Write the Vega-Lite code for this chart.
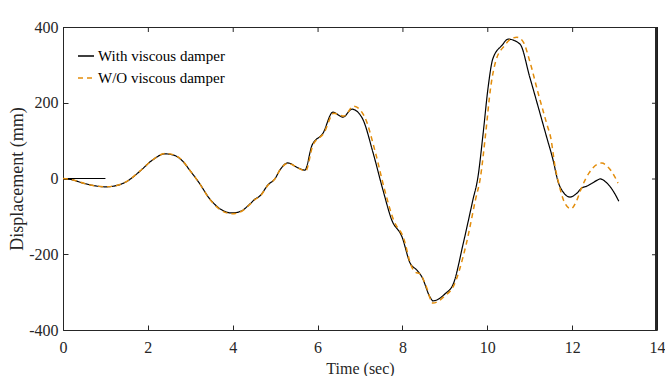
{
  "$schema": "https://vega.github.io/schema/vega-lite/v6.json",
  "width": 594,
  "height": 303,
  "autosize": {"type": "none"},
  "padding": {"left": 63, "top": 27, "right": 8, "bottom": 46},
  "config": {
    "view": {"stroke": null},
    "font": "Liberation Serif",
    "axis": {
      "grid": false,
      "domain": true,
      "domainColor": "#262626",
      "tickColor": "#262626",
      "zindex": 1,
      "labelFont": "Liberation Serif",
      "labelFontSize": 16,
      "labelColor": "#262626",
      "titleFont": "Liberation Serif",
      "titleFontWeight": "normal",
      "titleColor": "#262626"
    }
  },
  "data": {
    "values": [
      {"t": 0, "v": 0, "series": "With viscous damper", "seg": "flat"},
      {"t": 1.0, "v": 0, "series": "With viscous damper", "seg": "flat"},
      {"t": 0, "v": 0, "series": "With viscous damper", "seg": "main"},
      {"t": 0.2, "v": -3, "series": "With viscous damper", "seg": "main"},
      {"t": 0.5, "v": -13, "series": "With viscous damper", "seg": "main"},
      {"t": 0.8, "v": -20, "series": "With viscous damper", "seg": "main"},
      {"t": 1.0, "v": -22, "series": "With viscous damper", "seg": "main"},
      {"t": 1.2, "v": -20, "series": "With viscous damper", "seg": "main"},
      {"t": 1.5, "v": -8, "series": "With viscous damper", "seg": "main"},
      {"t": 1.8, "v": 18, "series": "With viscous damper", "seg": "main"},
      {"t": 2.1, "v": 48, "series": "With viscous damper", "seg": "main"},
      {"t": 2.4, "v": 65, "series": "With viscous damper", "seg": "main"},
      {"t": 2.6, "v": 62, "series": "With viscous damper", "seg": "main"},
      {"t": 2.8, "v": 48, "series": "With viscous damper", "seg": "main"},
      {"t": 3.0, "v": 20, "series": "With viscous damper", "seg": "main"},
      {"t": 3.2, "v": -10, "series": "With viscous damper", "seg": "main"},
      {"t": 3.46, "v": -54, "series": "With viscous damper", "seg": "main"},
      {"t": 3.7, "v": -80, "series": "With viscous damper", "seg": "main"},
      {"t": 3.98, "v": -91, "series": "With viscous damper", "seg": "main"},
      {"t": 4.2, "v": -86, "series": "With viscous damper", "seg": "main"},
      {"t": 4.4, "v": -68, "series": "With viscous damper", "seg": "main"},
      {"t": 4.52, "v": -55, "series": "With viscous damper", "seg": "main"},
      {"t": 4.65, "v": -45, "series": "With viscous damper", "seg": "main"},
      {"t": 4.83, "v": -17, "series": "With viscous damper", "seg": "main"},
      {"t": 5.0, "v": 0, "series": "With viscous damper", "seg": "main"},
      {"t": 5.11, "v": 22, "series": "With viscous damper", "seg": "main"},
      {"t": 5.3, "v": 41, "series": "With viscous damper", "seg": "main"},
      {"t": 5.54, "v": 28, "series": "With viscous damper", "seg": "main"},
      {"t": 5.7, "v": 22, "series": "With viscous damper", "seg": "main"},
      {"t": 5.87, "v": 88, "series": "With viscous damper", "seg": "main"},
      {"t": 6.13, "v": 120, "series": "With viscous damper", "seg": "main"},
      {"t": 6.36, "v": 175, "series": "With viscous damper", "seg": "main"},
      {"t": 6.6, "v": 162, "series": "With viscous damper", "seg": "main"},
      {"t": 6.81, "v": 183, "series": "With viscous damper", "seg": "main"},
      {"t": 7.05, "v": 160, "series": "With viscous damper", "seg": "main"},
      {"t": 7.31, "v": 67, "series": "With viscous damper", "seg": "main"},
      {"t": 7.54, "v": -30, "series": "With viscous damper", "seg": "main"},
      {"t": 7.75, "v": -110, "series": "With viscous damper", "seg": "main"},
      {"t": 7.99, "v": -154, "series": "With viscous damper", "seg": "main"},
      {"t": 8.18, "v": -223, "series": "With viscous damper", "seg": "main"},
      {"t": 8.34, "v": -242, "series": "With viscous damper", "seg": "main"},
      {"t": 8.46, "v": -260, "series": "With viscous damper", "seg": "main"},
      {"t": 8.65, "v": -313, "series": "With viscous damper", "seg": "main"},
      {"t": 8.72, "v": -323, "series": "With viscous damper", "seg": "main"},
      {"t": 9.0, "v": -305, "series": "With viscous damper", "seg": "main"},
      {"t": 9.2, "v": -278, "series": "With viscous damper", "seg": "main"},
      {"t": 9.43, "v": -173, "series": "With viscous damper", "seg": "main"},
      {"t": 9.66, "v": -57, "series": "With viscous damper", "seg": "main"},
      {"t": 9.78, "v": 4, "series": "With viscous damper", "seg": "main"},
      {"t": 9.9, "v": 117, "series": "With viscous damper", "seg": "main"},
      {"t": 10.02, "v": 241, "series": "With viscous damper", "seg": "main"},
      {"t": 10.13, "v": 316, "series": "With viscous damper", "seg": "main"},
      {"t": 10.35, "v": 352, "series": "With viscous damper", "seg": "main"},
      {"t": 10.49, "v": 368, "series": "With viscous damper", "seg": "main"},
      {"t": 10.77, "v": 355, "series": "With viscous damper", "seg": "main"},
      {"t": 11.0, "v": 268, "series": "With viscous damper", "seg": "main"},
      {"t": 11.2, "v": 189, "series": "With viscous damper", "seg": "main"},
      {"t": 11.4, "v": 109, "series": "With viscous damper", "seg": "main"},
      {"t": 11.55, "v": 49, "series": "With viscous damper", "seg": "main"},
      {"t": 11.67, "v": -9, "series": "With viscous damper", "seg": "main"},
      {"t": 11.79, "v": -36, "series": "With viscous damper", "seg": "main"},
      {"t": 11.95, "v": -49, "series": "With viscous damper", "seg": "main"},
      {"t": 12.1, "v": -40, "series": "With viscous damper", "seg": "main"},
      {"t": 12.23, "v": -25, "series": "With viscous damper", "seg": "main"},
      {"t": 12.35, "v": -20, "series": "With viscous damper", "seg": "main"},
      {"t": 12.6, "v": -4, "series": "With viscous damper", "seg": "main"},
      {"t": 12.66, "v": -1, "series": "With viscous damper", "seg": "main"},
      {"t": 12.8, "v": -10, "series": "With viscous damper", "seg": "main"},
      {"t": 12.95, "v": -30, "series": "With viscous damper", "seg": "main"},
      {"t": 13.1, "v": -60, "series": "With viscous damper", "seg": "main"},

      {"t": 0, "v": 0, "series": "W/O viscous damper", "seg": "main"},
      {"t": 0.2, "v": -3, "series": "W/O viscous damper", "seg": "main"},
      {"t": 0.5, "v": -13, "series": "W/O viscous damper", "seg": "main"},
      {"t": 0.8, "v": -20, "series": "W/O viscous damper", "seg": "main"},
      {"t": 1.0, "v": -22, "series": "W/O viscous damper", "seg": "main"},
      {"t": 1.2, "v": -20, "series": "W/O viscous damper", "seg": "main"},
      {"t": 1.5, "v": -8, "series": "W/O viscous damper", "seg": "main"},
      {"t": 1.8, "v": 18, "series": "W/O viscous damper", "seg": "main"},
      {"t": 2.1, "v": 48, "series": "W/O viscous damper", "seg": "main"},
      {"t": 2.4, "v": 66, "series": "W/O viscous damper", "seg": "main"},
      {"t": 2.6, "v": 63, "series": "W/O viscous damper", "seg": "main"},
      {"t": 2.8, "v": 49, "series": "W/O viscous damper", "seg": "main"},
      {"t": 3.0, "v": 20, "series": "W/O viscous damper", "seg": "main"},
      {"t": 3.2, "v": -10, "series": "W/O viscous damper", "seg": "main"},
      {"t": 3.46, "v": -55, "series": "W/O viscous damper", "seg": "main"},
      {"t": 3.7, "v": -82, "series": "W/O viscous damper", "seg": "main"},
      {"t": 3.98, "v": -93, "series": "W/O viscous damper", "seg": "main"},
      {"t": 4.2, "v": -87, "series": "W/O viscous damper", "seg": "main"},
      {"t": 4.4, "v": -69, "series": "W/O viscous damper", "seg": "main"},
      {"t": 4.52, "v": -56, "series": "W/O viscous damper", "seg": "main"},
      {"t": 4.65, "v": -46, "series": "W/O viscous damper", "seg": "main"},
      {"t": 4.83, "v": -18, "series": "W/O viscous damper", "seg": "main"},
      {"t": 5.0, "v": 0, "series": "W/O viscous damper", "seg": "main"},
      {"t": 5.11, "v": 22, "series": "W/O viscous damper", "seg": "main"},
      {"t": 5.3, "v": 40, "series": "W/O viscous damper", "seg": "main"},
      {"t": 5.54, "v": 28, "series": "W/O viscous damper", "seg": "main"},
      {"t": 5.72, "v": 20, "series": "W/O viscous damper", "seg": "main"},
      {"t": 5.89, "v": 88, "series": "W/O viscous damper", "seg": "main"},
      {"t": 6.15, "v": 120, "series": "W/O viscous damper", "seg": "main"},
      {"t": 6.38, "v": 172, "series": "W/O viscous damper", "seg": "main"},
      {"t": 6.62, "v": 165, "series": "W/O viscous damper", "seg": "main"},
      {"t": 6.85, "v": 191, "series": "W/O viscous damper", "seg": "main"},
      {"t": 7.1, "v": 165, "series": "W/O viscous damper", "seg": "main"},
      {"t": 7.36, "v": 70, "series": "W/O viscous damper", "seg": "main"},
      {"t": 7.58, "v": -30, "series": "W/O viscous damper", "seg": "main"},
      {"t": 7.8, "v": -112, "series": "W/O viscous damper", "seg": "main"},
      {"t": 8.03, "v": -158, "series": "W/O viscous damper", "seg": "main"},
      {"t": 8.2, "v": -228, "series": "W/O viscous damper", "seg": "main"},
      {"t": 8.3, "v": -247, "series": "W/O viscous damper", "seg": "main"},
      {"t": 8.42, "v": -252, "series": "W/O viscous damper", "seg": "main"},
      {"t": 8.55, "v": -282, "series": "W/O viscous damper", "seg": "main"},
      {"t": 8.72, "v": -329, "series": "W/O viscous damper", "seg": "main"},
      {"t": 9.0, "v": -310, "series": "W/O viscous damper", "seg": "main"},
      {"t": 9.2, "v": -285, "series": "W/O viscous damper", "seg": "main"},
      {"t": 9.5, "v": -175, "series": "W/O viscous damper", "seg": "main"},
      {"t": 9.72, "v": -57, "series": "W/O viscous damper", "seg": "main"},
      {"t": 9.84, "v": 4, "series": "W/O viscous damper", "seg": "main"},
      {"t": 9.96, "v": 117, "series": "W/O viscous damper", "seg": "main"},
      {"t": 10.08, "v": 241, "series": "W/O viscous damper", "seg": "main"},
      {"t": 10.2, "v": 310, "series": "W/O viscous damper", "seg": "main"},
      {"t": 10.4, "v": 350, "series": "W/O viscous damper", "seg": "main"},
      {"t": 10.55, "v": 368, "series": "W/O viscous damper", "seg": "main"},
      {"t": 10.7, "v": 373, "series": "W/O viscous damper", "seg": "main"},
      {"t": 10.85, "v": 360, "series": "W/O viscous damper", "seg": "main"},
      {"t": 11.0, "v": 310, "series": "W/O viscous damper", "seg": "main"},
      {"t": 11.2, "v": 225, "series": "W/O viscous damper", "seg": "main"},
      {"t": 11.4, "v": 145, "series": "W/O viscous damper", "seg": "main"},
      {"t": 11.5, "v": 105, "series": "W/O viscous damper", "seg": "main"},
      {"t": 11.6, "v": 30, "series": "W/O viscous damper", "seg": "main"},
      {"t": 11.7, "v": -20, "series": "W/O viscous damper", "seg": "main"},
      {"t": 11.8, "v": -58, "series": "W/O viscous damper", "seg": "main"},
      {"t": 11.97, "v": -80, "series": "W/O viscous damper", "seg": "main"},
      {"t": 12.1, "v": -60, "series": "W/O viscous damper", "seg": "main"},
      {"t": 12.23, "v": -22, "series": "W/O viscous damper", "seg": "main"},
      {"t": 12.4, "v": 15, "series": "W/O viscous damper", "seg": "main"},
      {"t": 12.6, "v": 38, "series": "W/O viscous damper", "seg": "main"},
      {"t": 12.7, "v": 41, "series": "W/O viscous damper", "seg": "main"},
      {"t": 12.82, "v": 33, "series": "W/O viscous damper", "seg": "main"},
      {"t": 12.94, "v": 17, "series": "W/O viscous damper", "seg": "main"},
      {"t": 13.08, "v": -12, "series": "W/O viscous damper", "seg": "main"}
    ]
  },
  "layer": [
    {
      "transform": [{"filter": "datum.series === 'With viscous damper'"}],
      "mark": {"type": "line", "strokeWidth": 1.2, "interpolate": "monotone"},
      "encoding": {
        "x": {
          "field": "t", "type": "quantitative",
          "scale": {"domain": [0, 14], "nice": false, "zero": false},
          "axis": {
            "orient": "bottom",
            "values": [0, 2, 4, 6, 8, 10, 12, 14],
            "tickSize": -5,
            "labelFlush": false,
            "labelPadding": 14,
            "title": "Time (sec)",
            "titleFontSize": 16,
            "titleX": 297,
            "titleY": 43,
            "titleBaseline": "alphabetic"
          }
        },
        "y": {
          "field": "v", "type": "quantitative",
          "scale": {"domain": [-400, 400], "nice": false},
          "axis": {
            "orient": "left",
            "values": [-400, -200, 0, 200, 400],
            "tickSize": -5,
            "labelPadding": 10,
            "labelExpr": "'' + datum.value",
            "title": "Displacement (mm)",
            "titleFontSize": 18,
            "titleX": -41,
            "titleY": 151.5,
            "titleBaseline": "alphabetic"
          }
        },
        "detail": {"field": "seg"},
        "color": {
          "field": "series", "type": "nominal",
          "scale": {"domain": ["With viscous damper", "W/O viscous damper"], "range": ["#000000", "#E38D0B"]},
          "legend": {
            "title": null,
            "orient": "none",
            "legendX": 14,
            "legendY": 20,
            "padding": 0,
            "symbolType": "stroke",
            "symbolSize": 256,
            "symbolStrokeWidth": 1.3,
            "labelFont": "Liberation Serif",
            "labelFontSize": 15,
            "labelColor": "#000000",
            "labelOffset": 3,
            "rowPadding": 5
          }
        },
        "strokeDash": {
          "field": "series", "type": "nominal",
          "scale": {"domain": ["With viscous damper", "W/O viscous damper"], "range": [[1, 0], [5, 4]]},
          "legend": {
            "title": null,
            "orient": "none",
            "legendX": 14,
            "legendY": 20,
            "padding": 0,
            "symbolType": "stroke",
            "symbolSize": 256,
            "symbolStrokeWidth": 1.3,
            "labelFont": "Liberation Serif",
            "labelFontSize": 15,
            "labelColor": "#000000",
            "labelOffset": 3,
            "rowPadding": 5
          }
        }
      }
    },
    {
      "transform": [{"filter": "datum.series === 'W/O viscous damper'"}],
      "mark": {"type": "line", "strokeWidth": 1.5, "interpolate": "monotone"},
      "encoding": {
        "x": {"field": "t", "type": "quantitative"},
        "y": {"field": "v", "type": "quantitative"},
        "color": {"field": "series", "type": "nominal"},
        "strokeDash": {"field": "series", "type": "nominal"}
      }
    },
    {
      "mark": {"type": "rule", "color": "#262626", "strokeWidth": 1.2, "yOffset": 0.5},
      "encoding": {
        "x": {"datum": 0, "type": "quantitative"},
        "x2": {"datum": 14},
        "y": {"datum": 400, "type": "quantitative"}
      }
    },
    {
      "mark": {"type": "rule", "color": "#262626", "strokeWidth": 1.2, "xOffset": -0.5},
      "encoding": {
        "x": {"datum": 14, "type": "quantitative"},
        "y": {"datum": -400, "type": "quantitative"},
        "y2": {"datum": 400}
      }
    },
    {
      "data": {"values": [{"t": 2}, {"t": 4}, {"t": 6}, {"t": 8}, {"t": 10}, {"t": 12}]},
      "mark": {"type": "rule", "color": "#262626", "strokeWidth": 1, "xOffset": 0.5},
      "encoding": {
        "x": {"field": "t", "type": "quantitative"},
        "y": {"datum": 400, "type": "quantitative"},
        "y2": {"datum": 386.8}
      }
    },
    {
      "data": {"values": [{"v": -200}, {"v": 0}, {"v": 200}]},
      "mark": {"type": "rule", "color": "#262626", "strokeWidth": 1, "yOffset": 0.5},
      "encoding": {
        "y": {"field": "v", "type": "quantitative"},
        "x": {"datum": 14, "type": "quantitative"},
        "x2": {"datum": 13.882}
      }
    }
  ]
}
